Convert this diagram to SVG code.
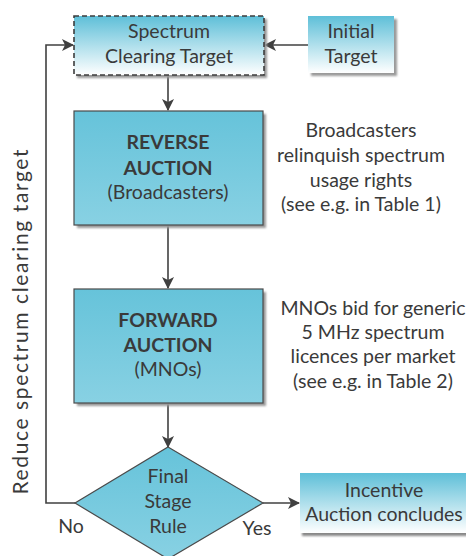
<svg xmlns="http://www.w3.org/2000/svg" width="466" height="556" viewBox="0 0 466 556">
<style>
  text { font-family: Lato, "Open Sans", "Liberation Sans", sans-serif; fill: #3a3a3a; font-size: 19.5px; text-anchor: middle; }
  .b { font-weight: bold; }
  .side { font-size: 21px; }
  .edge { stroke: #404040; stroke-width: 1.6; fill: none; }
  .box { stroke: #4a4a4a; stroke-width: 1.2; }
</style>
<defs>
  <linearGradient id="grad" x1="0" y1="0" x2="0" y2="1">
    <stop offset="0" stop-color="#5ebfd8"/>
    <stop offset="1" stop-color="#ffffff"/>
  </linearGradient>
  <linearGradient id="solid" x1="0" y1="0" x2="0" y2="1">
    <stop offset="0" stop-color="#66c3da"/>
    <stop offset="1" stop-color="#88d1e3"/>
  </linearGradient>
  <filter id="sh" x="-10%" y="-10%" width="130%" height="130%">
    <feGaussianBlur stdDeviation="1.2"/>
  </filter>
  <marker id="ah" viewBox="0 0 12 12" refX="11" refY="6" markerWidth="12" markerHeight="12" markerUnits="userSpaceOnUse" orient="auto">
    <path d="M0,0 L12,6 L0,12 L3,6 Z" fill="#404040"/>
  </marker>
</defs>

<g id="connectors">
  <line class="edge" x1="308" y1="45" x2="265" y2="45" marker-end="url(#ah)"/>
  <line class="edge" x1="168" y1="76" x2="168" y2="110" marker-end="url(#ah)"/>
  <line class="edge" x1="168" y1="226" x2="168" y2="288" marker-end="url(#ah)"/>
  <line class="edge" x1="168" y1="404" x2="168" y2="447" marker-end="url(#ah)"/>
  <polyline class="edge" points="75,503 46,503 46,45 73,45" marker-end="url(#ah)"/>
  <line class="edge" x1="263" y1="503" x2="299" y2="503" marker-end="url(#ah)"/>
</g>

<g id="spectrum-clearing-target">
  <rect x="77" y="19" width="190" height="59" fill="#999" filter="url(#sh)"/>
  <rect x="74" y="16" width="190" height="59" fill="url(#grad)" stroke="#3c3c3c" stroke-width="1.6" stroke-dasharray="5,3"/>
  <text x="169" y="38">Spectrum</text>
  <text x="169" y="63">Clearing Target</text>
</g>

<g id="initial-target">
  <rect x="311" y="19" width="86" height="57" fill="#9a9a9a" filter="url(#sh)"/>
  <rect x="308" y="16" width="86" height="57" fill="url(#grad)"/>
  <text x="351" y="38">Initial</text>
  <text x="351" y="63">Target</text>
</g>

<g id="reverse-auction">
  <rect x="77" y="114" width="189" height="114" fill="#999" filter="url(#sh)"/>
  <rect x="74" y="111" width="189" height="114" fill="url(#solid)" class="box"/>
  <text x="168" y="149" class="b">REVERSE</text>
  <text x="168" y="175" class="b">AUCTION</text>
  <text x="168" y="199">(Broadcasters)</text>
</g>

<g id="reverse-note">
  <text x="361" y="137">Broadcasters</text>
  <text x="361" y="162">relinquish spectrum</text>
  <text x="361" y="187">usage rights</text>
  <text x="361" y="211">(see e.g. in Table 1)</text>
</g>

<g id="forward-auction">
  <rect x="77" y="292" width="189" height="114" fill="#999" filter="url(#sh)"/>
  <rect x="74" y="289" width="189" height="114" fill="url(#solid)" class="box"/>
  <text x="168" y="327" class="b">FORWARD</text>
  <text x="168" y="352" class="b">AUCTION</text>
  <text x="168" y="376">(MNOs)</text>
</g>

<g id="forward-note">
  <text x="373" y="315">MNOs bid for generic</text>
  <text x="373" y="339">5 MHz spectrum</text>
  <text x="373" y="363">licences per market</text>
  <text x="373" y="388">(see e.g. in Table 2)</text>
</g>

<g id="final-stage-rule">
  <polygon points="168,447 263,503 168,559 75,503" fill="url(#solid)" class="box"/>
  <text x="168" y="483">Final</text>
  <text x="168" y="508">Stage</text>
  <text x="168" y="533">Rule</text>
</g>

<g id="incentive-auction">
  <rect x="302" y="476" width="170" height="60" fill="#888" filter="url(#sh)"/>
  <rect x="300" y="473" width="170" height="60" fill="url(#grad)"/>
  <text x="384" y="497">Incentive</text>
  <text x="384" y="521">Auction concludes</text>
</g>

<g id="labels">
  <text x="71" y="533">No</text>
  <text x="257" y="535">Yes</text>
  <text class="side" transform="translate(28,322) rotate(-90)" textLength="345" lengthAdjust="spacing">Reduce spectrum clearing target</text>
</g>
</svg>
